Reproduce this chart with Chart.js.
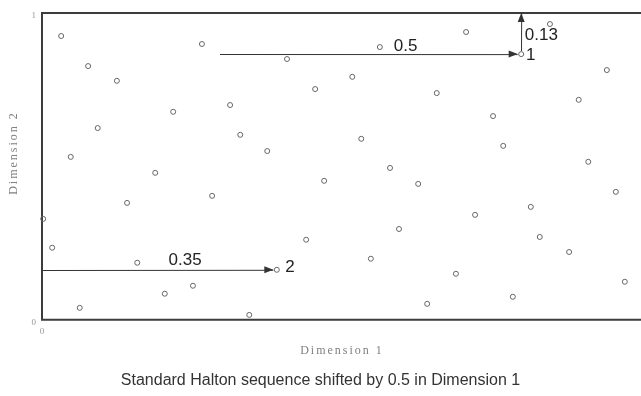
<!DOCTYPE html>
<html><head><meta charset="utf-8">
<script src="https://cdn.jsdelivr.net/npm/chart.js@4"></script>
<style>html,body{margin:0;padding:0;background:#fff;overflow:hidden}#wrap{width:641px;height:396px}</style>
</head><body><div id="wrap"><canvas id="c" width="641" height="396"></canvas></div>
<script>
// ---- data ----
const dim1 = [0.032,0.077,0.125,0.219,0.093,0.048,0.267,0.564,0.409,0.518,0.456,0.314,0.331,0.376,0.533,0.581,0.848,0.708,0.800,0.943,0.659,0.896,0.753,0.770,0.912,0.189,0.142,0.284,0.002,0.017,0.159,0.252,0.205,0.063,0.471,0.628,0.441,0.596,0.549,0.392,0.346,0.958,0.723,0.816,0.831,0.880,0.691,0.973,0.786,0.643];
const dim2 = [0.925,0.827,0.779,0.678,0.625,0.531,0.899,0.889,0.850,0.792,0.752,0.700,0.603,0.550,0.590,0.495,0.964,0.938,0.866,0.814,0.739,0.717,0.664,0.567,0.515,0.479,0.381,0.404,0.329,0.235,0.186,0.111,0.085,0.039,0.453,0.443,0.261,0.296,0.199,0.163,0.016,0.417,0.342,0.368,0.270,0.221,0.150,0.124,0.075,0.052];
const xTickValues = [0];
const yTickValues = [0, 1];
const chartTitle = 'Standard Halton sequence shifted by 0.5 in Dimension 1';
const xAxisTitle = 'Dimension 1';
const yAxisTitle = 'Dimension 2';
// shift arrows (data units)
const arrowFromX = [0.297, 0.800, 0.000];
const arrowFromY = [0.866, 0.866, 0.163];
const arrowToX   = [0.800, 0.800, 0.392];
const arrowToY   = [0.866, 1.000, 0.163];
const arrowEndsAtPoint = [true, false, true];
// annotation labels (data units)
const labelText = ['0.5', '0.13', '1', '0.35', '2'];
const labelX    = [0.607, 0.806, 0.808, 0.239, 0.406];
const labelY    = [0.893, 0.927, 0.863, 0.194, 0.171];
const labelAlign = ['center', 'left', 'left', 'center', 'left'];

const points = dim1.map((x, i) => ({x: x, y: dim2[i]}));

const framePlugin = {
  id: 'frame',
  beforeDatasetsDraw(chart) {
    const {ctx, chartArea: a} = chart;
    ctx.save();
    ctx.strokeStyle = '#3c3c3c';
    ctx.lineWidth = 2;
    ctx.beginPath();
    ctx.moveTo(chart.width, a.top); ctx.lineTo(a.left, a.top);
    ctx.lineTo(a.left, a.bottom); ctx.lineTo(chart.width, a.bottom);
    ctx.stroke();
    ctx.restore();
  }
};

const annotPlugin = {
  id: 'annot',
  afterDatasetsDraw(chart) {
    const {ctx} = chart;
    const xs = chart.scales.x, ys = chart.scales.y;
    ctx.save();
    ctx.strokeStyle = '#333';
    ctx.fillStyle = '#333';
    ctx.lineWidth = 1;
    for (let i = 0; i < arrowFromX.length; i++) {
      const x0 = xs.getPixelForValue(arrowFromX[i]);
      const y0 = ys.getPixelForValue(arrowFromY[i]);
      let x1 = xs.getPixelForValue(arrowToX[i]);
      let y1 = ys.getPixelForValue(arrowToY[i]);
      const len = Math.hypot(x1 - x0, y1 - y0);
      const ux = (x1 - x0) / len, uy = (y1 - y0) / len;
      if (arrowEndsAtPoint[i]) { x1 -= ux * 3.5; y1 -= uy * 3.5; }
      const sy0 = arrowEndsAtPoint[i] ? y0 : y0 - 3;
      ctx.beginPath();
      ctx.moveTo(Math.round(x0) + 0.5 * Math.abs(uy), Math.round(sy0) + 0.5 * Math.abs(ux));
      ctx.lineTo(x1 + 0.5 * Math.abs(uy), y1 + 0.5 * Math.abs(ux));
      ctx.stroke();
      const hl = 9, hw = 3.5;
      const px = -uy, py = ux;
      ctx.beginPath();
      ctx.moveTo(x1, y1);
      ctx.lineTo(x1 - ux * hl + px * hw, y1 - uy * hl + py * hw);
      ctx.lineTo(x1 - ux * hl - px * hw, y1 - uy * hl - py * hw);
      ctx.closePath();
      ctx.fill();
    }
    ctx.fillStyle = '#222';
    ctx.font = '17px "Liberation Sans", Arial, sans-serif';
    ctx.textBaseline = 'middle';
    for (let i = 0; i < labelText.length; i++) {
      ctx.textAlign = labelAlign[i];
      ctx.fillText(labelText[i], xs.getPixelForValue(labelX[i]), ys.getPixelForValue(labelY[i]));
    }
    // axis titles
    ctx.fillStyle = '#808080';
    ctx.font = '12px "Liberation Serif", "DejaVu Serif", serif';
    ctx.letterSpacing = '2px';
    ctx.textAlign = 'center';
    ctx.fillText(xAxisTitle, 342, 351);
    ctx.translate(14, 153);
    ctx.rotate(-Math.PI / 2);
    ctx.fillText(yAxisTitle, 0, 0);
    ctx.restore();
  }
};

new Chart(document.getElementById('c'), {
  type: 'scatter',
  data: {
    datasets: [{
      data: points,
      pointRadius: 2.5,
      pointHoverRadius: 2.5,
      pointBorderWidth: 1,
      borderColor: '#666',
      backgroundColor: 'rgba(255,255,255,0)',
      clip: false
    }]
  },
  options: {
    responsive: false,
    devicePixelRatio: 1,
    animation: false,
    layout: {autoPadding: false, padding: {top: 13, left: 0, right: 0, bottom: 0}},
    plugins: {
      legend: {display: false},
      tooltip: {enabled: false},
      title: {
        display: true,
        position: 'bottom',
        text: chartTitle,
        color: '#333',
        font: {family: '"Liberation Sans", Arial, sans-serif', size: 16, weight: 'normal'},
        padding: {top: 4, bottom: 6}
      }
    },
    scales: {
      x: {
        type: 'linear', min: 0, max: 1,
        grid: {display: false, drawTicks: false},
        border: {display: false},
        afterBuildTicks: s => { s.ticks = xTickValues.map(v => ({value: v})); },
        afterFit: s => { s.height = 47; s.paddingLeft = 0; s.paddingRight = 0; },
        ticks: {color: '#999', font: {family: '"Liberation Serif", serif', size: 9}, padding: 6, maxRotation: 0}
      },
      y: {
        type: 'linear', min: 0, max: 1,
        grid: {display: false, drawTicks: false},
        border: {display: false},
        afterBuildTicks: s => { s.ticks = yTickValues.map(v => ({value: v})); },
        afterFit: s => { s.width = 42; s.paddingTop = 0; s.paddingBottom = 0; },
        ticks: {color: '#999', font: {family: '"Liberation Serif", serif', size: 9}, padding: 6, labelOffset: 3}
      }
    }
  },
  plugins: [framePlugin, annotPlugin]
});
</script>
</body></html>
